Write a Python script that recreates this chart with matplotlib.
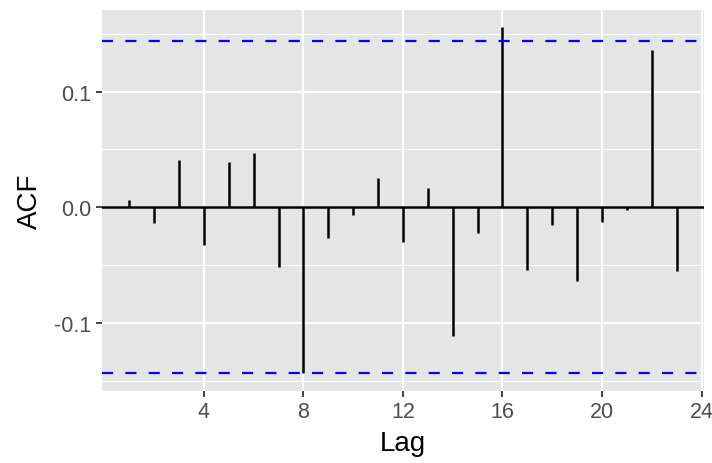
import matplotlib.pyplot as plt

lags = list(range(1, 24))
acf = [0.006, -0.014, 0.041, -0.033, 0.039, 0.047, -0.052, -0.143, -0.027,
       -0.007, 0.025, -0.030, 0.017, -0.111, -0.022, 0.156, -0.054, -0.015,
       -0.064, -0.013, -0.002, 0.136, -0.055]
ci = 0.1436

plt.rcParams['font.family'] = ['Liberation Sans', 'DejaVu Sans']

fig = plt.figure(figsize=(7.12, 4.64), dpi=100)
ax = fig.add_axes([0.1428, 0.1558, 0.8460, 0.8205])
ax.set_facecolor('#E5E5E5')

ax.vlines(lags, 0, acf, color='black', lw=1.8, zorder=3)
ax.axhline(0, color='black', lw=1.8, zorder=3)
ax.axhline(ci, color='#0000FF', lw=1.6, ls=(0, (5, 5.5)), zorder=3)
ax.axhline(-ci, color='#0000FF', lw=1.6, ls=(0, (5, 5.5)), zorder=3)

ax.set_xlim(-0.11, 24.1)
ax.set_ylim(-0.1587, 0.1707)
ax.set_xticks([4, 8, 12, 16, 20, 24])
ax.set_yticks([-0.1, 0.0, 0.1])
ax.set_yticklabels(['-0.1', '0.0', '0.1'])
ax.set_yticks([-0.15, -0.05, 0.05, 0.15], minor=True)

ax.grid(True, which='major', color='white', lw=1.6, zorder=0)
ax.grid(True, which='minor', axis='y', color='white', lw=0.8, zorder=0)
ax.set_axisbelow(True)

for s in ax.spines.values():
    s.set_visible(False)
ax.tick_params(which='major', length=4.5, width=1.3, color='#333333',
               labelcolor='#4D4D4D', labelsize=15.5, pad=3)
ax.tick_params(which='minor', length=0)

ax.set_xlabel('Lag', fontsize=20, color='black', labelpad=6)
ax.set_ylabel('ACF', fontsize=20, color='black', labelpad=8)

fig.savefig('out.png', dpi=100)
